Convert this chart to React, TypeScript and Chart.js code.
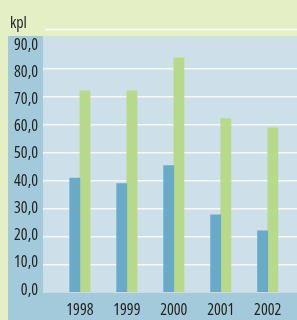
import React, { useEffect, useRef } from "react";
import { Chart, registerables } from "chart.js";

Chart.register(...registerables);

const years = ["1998", "1999", "2000", "2001", "2002"];
const seriesBlue = [40.9, 38.9, 45.3, 27.7, 22.0];
const seriesGreen = [72.0, 72.0, 83.8, 62.1, 58.8];
const yTicks = [0, 10, 20, 30, 40, 50, 60, 70, 80, 90];
const unitLabel = "kpl";

const FAMILY = "'Open Sans', sans-serif";
const STRETCH = "condensed";

const bgPlugin = {
  id: "bgPlugin",
  beforeDraw(chart: any) {
    const { ctx, chartArea, width, height } = chart;
    ctx.save();
    ctx.fillStyle = "#e5efc6";
    ctx.fillRect(0, 0, width, height);
    ctx.fillStyle = "#a3cadb";
    ctx.fillRect(8, chartArea.top, chartArea.left - 8, height - chartArea.top);
    ctx.fillRect(8, chartArea.bottom, width - 8, height - chartArea.bottom);
    ctx.fillStyle = "#cde0ea";
    ctx.fillRect(chartArea.left, chartArea.top, chartArea.right - chartArea.left, chartArea.bottom - chartArea.top);
    ctx.strokeStyle = "#ffffff";
    ctx.lineWidth = 1.5;
    ctx.beginPath();
    ctx.moveTo(45, 29.5);
    ctx.lineTo(width, 29.5);
    ctx.stroke();
    ctx.fillStyle = "#222222";
    ctx.font = STRETCH + " 16px " + FAMILY;
    ctx.textBaseline = "middle";
    ctx.textAlign = "left";
    ctx.fillText(unitLabel, 10, 23);
    ctx.restore();
  },
};

export default function App() {
  const ref = useRef<HTMLCanvasElement>(null);
  useEffect(() => {
    if (!ref.current) return;
    const chart = new Chart(ref.current, {
      type: "bar",
      data: {
        datasets: [
          {
            data: seriesBlue.map((v, i) => ({ x: i, y: v })),
            backgroundColor: "#69aac8",
            barThickness: 10.2,
            yAxisID: "y",
          },
          {
            data: seriesGreen.map((v, i) => ({ x: i, y: v })),
            backgroundColor: "#b8d98a",
            barThickness: 10.2,
            yAxisID: "y",
          },
        ],
      },
      plugins: [bgPlugin],
      options: {
        animation: false,
        responsive: false,
        maintainAspectRatio: false,
        layout: { padding: { top: 36, left: 0, right: 0, bottom: 0 } },
        plugins: { legend: { display: false }, tooltip: { enabled: false }, title: { display: false } },
        scales: {
          x: {
            type: "linear",
            offset: false,
            min: -0.786,
            max: 4.624,
            afterFit: (s: any) => { s.height = 27.5; s.paddingLeft = 0; s.paddingRight = 0; },
            grid: { display: false, drawTicks: false, offset: false },
            border: { display: false },
            ticks: {
              stepSize: 1,
              includeBounds: false,
              autoSkip: false,
              maxRotation: 0,
              padding: 8,
              color: "#222222",
              font: { family: FAMILY, size: 16, weight: STRETCH as any },
              callback: (v: any) => years[v as number] ?? "",
            },
          },
          y: {
            position: "left",
            min: 0,
            max: 91.6,
            weight: 0,
            afterFit: (s: any) => { s.width = 0; },
            afterBuildTicks: (s: any) => { s.ticks = yTicks.map((v) => ({ value: v })); },
            grid: {
              drawTicks: false,
              color: (c: any) => (c.tick && (c.tick.value === 0 || c.tick.value === 90) ? "rgba(0,0,0,0)" : "#f4f8fa"),
              lineWidth: 1.5,
            },
            border: { display: false },
            ticks: { display: false },
          },
          yl: {
            type: "linear",
            position: "left",
            min: -0.92,
            max: 93.3,
            weight: 1,
            afterFit: (s: any) => { s.width = 43; },
            afterBuildTicks: (s: any) => { s.ticks = yTicks.map((v) => ({ value: v })); },
            grid: { display: false, drawTicks: false },
            border: { display: false },
            ticks: {
              padding: 5,
              color: "#222222",
              font: { family: FAMILY, size: 16, weight: STRETCH as any },
              callback: (v: any) => Number(v).toFixed(1).replace(".", ","),
            },
          },
        },
      },
    });
    return () => chart.destroy();
  }, []);
  return (
    <div style={{ position: "absolute", left: 0, top: 0, width: 297, height: 320 }}>
      <canvas ref={ref} width={297} height={320} style={{ width: 297, height: 320, display: "block" }} />
    </div>
  );
}
